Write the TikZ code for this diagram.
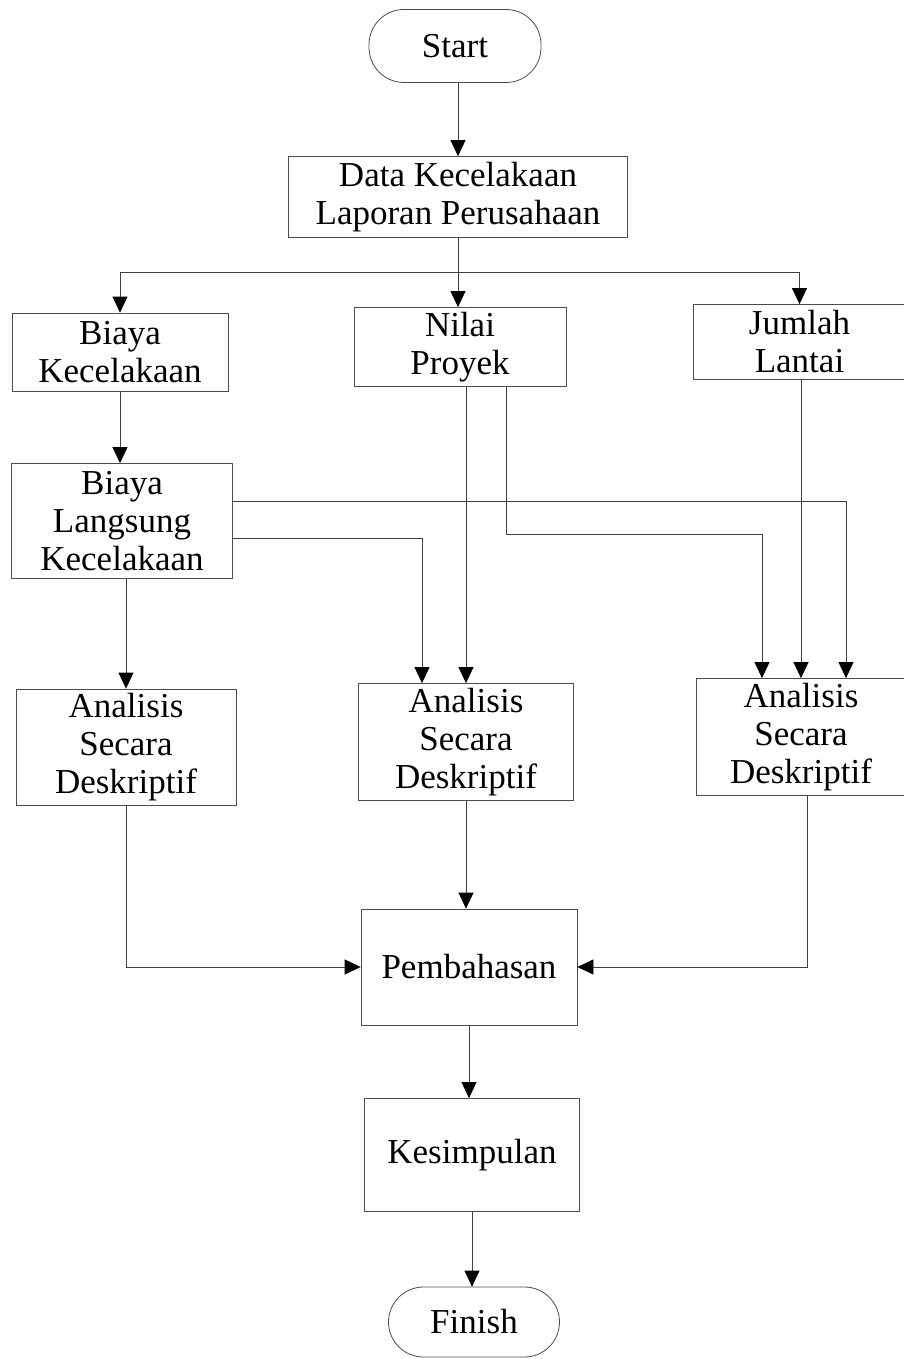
\documentclass[tikz,border=0pt]{standalone}
\usepackage{fontspec}
\setmainfont{Liberation Serif}
\usetikzlibrary{arrows.meta}
\begin{document}
\begin{tikzpicture}[x=1pt,y=-1pt,
  every node/.style={font=\fontsize{35}{38}\selectfont, align=center, inner sep=0pt},
  box/.style={draw=black!70, line width=0.8pt, rectangle},
  term/.style={draw=black!70, line width=0.8pt, rectangle, rounded corners=35pt},
  line/.style={draw=black!75, line width=0.8pt},
  arr/.style={line, -{Triangle[width=15pt,length=16pt,fill=black,color=black]}}]
\useasboundingbox (0,0) rectangle (904,1359);
\node[term, minimum width=172pt, minimum height=73pt] (start) at (455,46) {Start};
\node[box, minimum width=339pt, minimum height=81pt] (data) at (458,197) {Data Kecelakaan\\Laporan Perusahaan};
\node[box, minimum width=216pt, minimum height=78pt] (bk) at (120,352) {Biaya\\Kecelakaan};
\node[box, minimum width=212pt, minimum height=79pt] (np) at (460,347) {Nilai\\Proyek};
\node[box, minimum width=213pt, minimum height=75pt] (jl) at (799.5,342) {Jumlah\\Lantai};
\node[box, minimum width=221pt, minimum height=115pt] (blk) at (122,521) {Biaya\\Langsung\\Kecelakaan};
\node[box, minimum width=220pt, minimum height=116pt] (a1) at (126,747) {Analisis\\Secara\\Deskriptif};
\node[box, minimum width=215pt, minimum height=117pt] (a2) at (466,742) {Analisis\\Secara\\Deskriptif};
\node[box, minimum width=210pt, minimum height=117pt] (a3) at (801,737) {Analisis\\Secara\\Deskriptif};
\node[box, minimum width=216pt, minimum height=116pt] (pemb) at (469,967) {Pembahasan};
\node[box, minimum width=215pt, minimum height=113pt] (kes) at (472,1155) {Kesimpulan};
\node[term, minimum width=171pt, minimum height=70pt] (fin) at (474,1322) {Finish};

\draw[arr] (data.north |- start.south) -- (data.north);
\draw[line] (data.south) -- ++(0,34) coordinate (br);
\draw[arr] (br) -| (bk.north);
\draw[arr] (br) -- (br |- np.north);
\draw[arr] (br) -| (jl.north);
\draw[arr] (bk.south) -- (bk.south |- blk.north);
\draw[arr] (blk.east |- 0,501) -| ([xshift=45pt]a3.north);
\draw[arr] (blk.east |- 0,538) -| ([xshift=-44pt]a2.north);
\draw[arr] (np.south -| a2.north) -- (a2.north);
\draw[arr] ([xshift=46pt]np.south) -- ++(0,147) -| ([xshift=-39pt]a3.north);
\draw[arr] (jl.south -| a3.north) -- (a3.north);
\draw[arr] (blk.south -| a1.north) -- (a1.north);
\draw[arr] (a1.south) |- (pemb.west);
\draw[arr] (a2.south) -- (a2.south |- pemb.north);
\draw[arr] ([xshift=6pt]a3.south) |- (pemb.east);
\draw[arr] (pemb.south) -- (pemb.south |- kes.north);
\draw[arr] (kes.south) -- (kes.south |- fin.north);
\end{tikzpicture}
\end{document}
